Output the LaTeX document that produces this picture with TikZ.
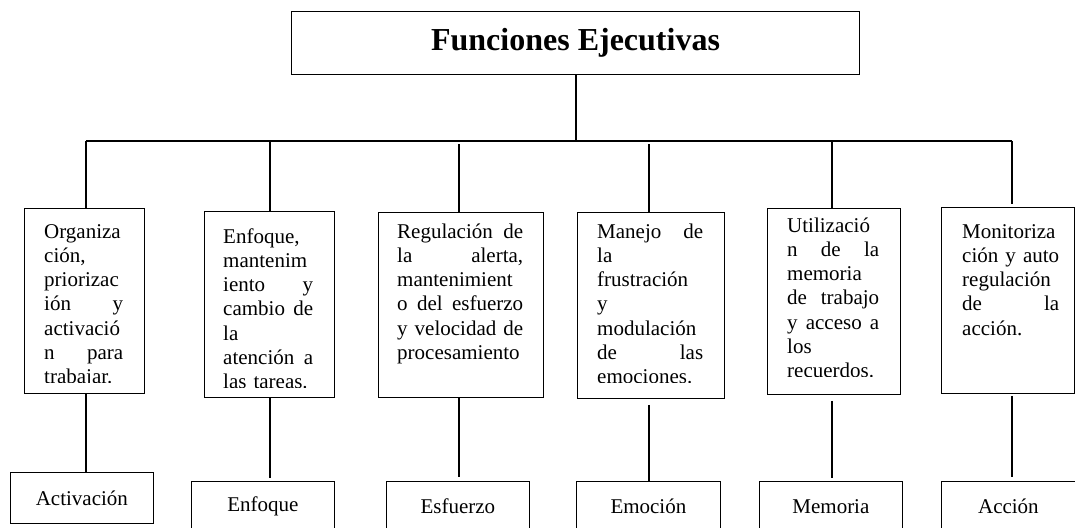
\documentclass[tikz,border=0pt]{standalone}
\usepackage{fontspec}
\setmainfont{Liberation Serif}
\newcommand\bodyfont{\fontsize{21}{24.2}\selectfont}
\newcommand\jl[2]{\leavevmode\hbox to #1pt{#2}}
\begin{document}
\begin{tikzpicture}[x=1pt,y=-1pt,
  box/.style={draw, line width=0.8pt, inner sep=0pt, anchor=north west},
  link/.style={line width=1.4pt},
  txt/.style={inner sep=0pt, anchor=north west, align=left, font=\bodyfont},
  lbl/.style={box, font=\bodyfont, align=center}]
\useasboundingbox (0,0) rectangle (1075,527);
\clip (0,0) rectangle (1075,527);
% title
\node[box, line width=1pt, minimum width=568, minimum height=63,
      font=\bfseries\fontsize{32}{32}\selectfont] (title) at (291,11) {Funciones Ejecutivas};
% upper boxes
\node[box, minimum width=120, minimum height=185] (b1) at (24,208) {};
\node[box, minimum width=130, minimum height=186] (b2) at (204,211) {};
\node[box, minimum width=165, minimum height=185] (b3) at (378,212) {};
\node[box, minimum width=147, minimum height=186] (b4) at (577,212) {};
\node[box, minimum width=133, minimum height=186] (b5) at (767,208) {};
\node[box, minimum width=133, minimum height=186] (b6) at (941,207) {};
% texts, clipped to the boxes
\begin{scope}
\clip ([yshift=-2]b1.north west) rectangle (b1.east |- 0,382);
\node[txt, text width=79] (t1) at (44,221.1) {\strut Organiza\\ción,\\priorizac\\\jl{79}{ión\hfill y}\\activació\\\jl{79}{n\hfill para}\\trabajar.};
\end{scope}
\begin{scope}
\clip ([yshift=-2]b2.north west) rectangle (b2.east |- 0,387);
\node[txt, text width=90] (t2) at (223,226.1) {\strut Enfoque,\\mantenim\\\jl{90}{iento\hfill y}\\\jl{90}{cambio\hfill de}\\la\\\jl{90}{atención\hfill a}\\las tareas.};
\end{scope}
\begin{scope}
\clip ([yshift=-2]b3.north west) rectangle ([yshift=7]b3.south east);
\node[txt, text width=126] (t3) at (397,221.1) {\strut\jl{126}{Regulación\hfill de}\\\jl{126}{la\hfill alerta,}\\mantenimient\\\jl{126}{o\hfill del\hfill esfuerzo}\\\jl{126}{y\hfill velocidad\hfill de}\\procesamiento};
\end{scope}
\begin{scope}
\clip ([yshift=-2]b4.north west) rectangle (b4.east |- 0,382);
\node[txt, text width=106] (t4) at (597,221.1) {\strut\jl{106}{Manejo\hfill de}\\la\\frustración\\y\\modulación\\\jl{106}{de\hfill las}\\emociones.};
\end{scope}
\begin{scope}
\clip ([yshift=-2]b5.north west) rectangle (b5.east |- 0,376);
\node[txt, text width=92] (t5) at (787,215.1) {\strut Utilizació\\\jl{92}{n\hfill de\hfill la}\\memoria\\\jl{92}{de\hfill trabajo}\\\jl{92}{y\hfill acceso\hfill a}\\los\\recuerdos.};
\end{scope}
\begin{scope}
\clip ([yshift=-2]b6.north west) rectangle ([yshift=7]b6.south east);
\node[txt, text width=97] (t6) at (962,221.1) {\strut Monitoriza\\\jl{97}{ción\hfill y\hfill auto}\\regulación\\\jl{97}{de\hfill la}\\acción.};
\end{scope}
% bottom boxes
\node[lbl, minimum width=143, minimum height=51] (a1) at (10,472) {Activación};
\node[lbl, minimum width=143, minimum height=50] (a2) at (191,481) {Enfoque};
\node[lbl, minimum width=143, minimum height=50] (a3) at (386,481) {Esfuerzo};
\node[lbl, minimum width=144, minimum height=50] (a4) at (576,481) {Emoción};
\node[lbl, minimum width=143, minimum height=50] (a5) at (759,481) {Memoria};
\node[lbl, minimum width=134, minimum height=50] (a6) at (941,481) {Acción};
% connectors
\coordinate (s1) at (86,141);
\coordinate (s2) at (270,141);
\coordinate (s3) at (459,141);
\coordinate (s4) at (649,141);
\coordinate (s5) at (832,141);
\coordinate (s6) at (1012,141);
\draw[link] (title.south -| 576,0) -- (576,141);
\draw[link] (s1) -- (s6);
\draw[link] (s1) -- (s1 |- b1.north);
\draw[link] (s2) -- (s2 |- b2.north);
\draw[link, shorten <=3pt] (s3) -- (s3 |- b3.north);
\draw[link, shorten <=3pt] (s4) -- (s4 |- b4.north);
\draw[link] (s5) -- (s5 |- b5.north);
\draw[link, shorten >=3pt] (s6) -- (s6 |- b6.north);
\draw[link] (s1 |- b1.south) -- (s1 |- a1.north);
\draw[link, shorten >=3pt] (s2 |- b2.south) -- (s2 |- a2.north);
\draw[link, shorten >=4pt] (s3 |- b3.south) -- (s3 |- a3.north);
\draw[link, shorten <=6pt] (s4 |- b4.south) -- (s4 |- a4.north);
\draw[link, shorten <=6pt, shorten >=3pt] (s5 |- b5.south) -- (s5 |- a5.north);
\draw[link, shorten <=2pt, shorten >=4pt] (s6 |- b6.south) -- (s6 |- a6.north);
\end{tikzpicture}
\end{document}
